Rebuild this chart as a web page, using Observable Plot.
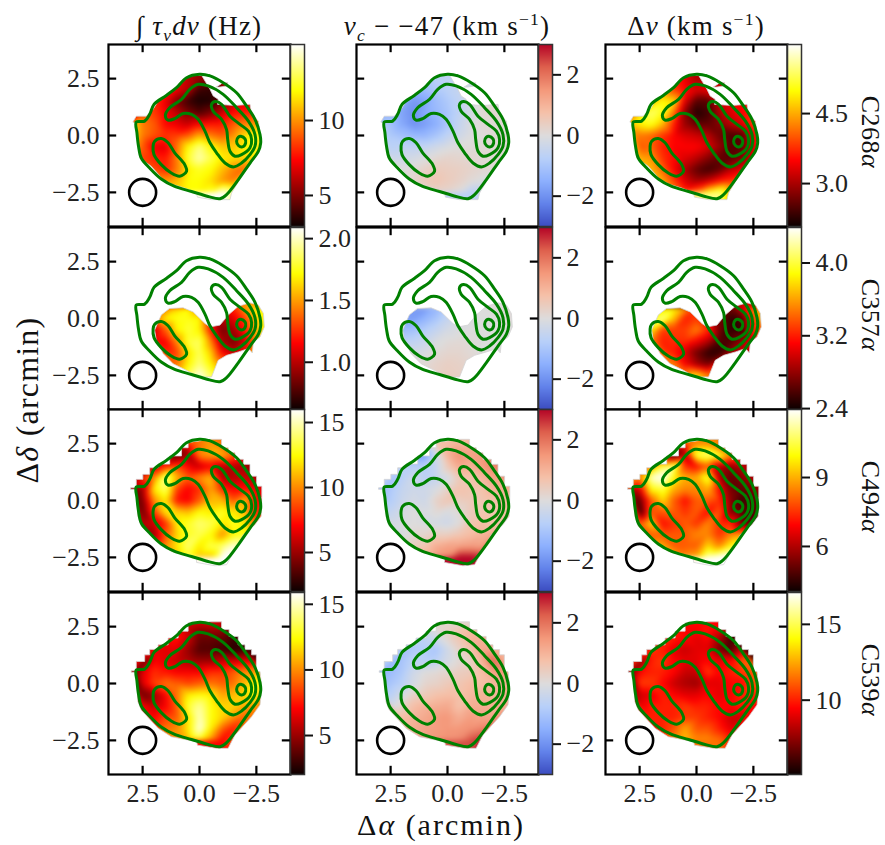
<!DOCTYPE html>
<html><head><meta charset="utf-8">
<script src="https://cdn.jsdelivr.net/npm/d3@7"></script>
<script src="https://cdn.jsdelivr.net/npm/@observablehq/plot@0.6"></script>
<style>
html,body{margin:0;padding:0;background:#fff}
#page{position:relative;width:885px;height:845px;overflow:hidden;font-family:"Liberation Serif",serif;color:#111}
#page svg{position:absolute;background:transparent;overflow:visible}
.lbl{position:absolute;white-space:nowrap;line-height:1}
sub,sup{font-size:65%;line-height:0}
</style></head><body><div id="page"></div>
<script>
const _ = null;
const xs = [3,2.5,2,1.5,1,.5,0,-.5,-1,-1.5,-2,-2.5,-3];
const ys = [2.5,2,1.5,1,.5,0,-.5,-1,-1.5,-2,-2.5];

const tauC268 = [
[_,_,_,_,7,6.2,5.4,5.4,_,_,_,_,_],
[_,_,_,7.5,7,6,3.8,3.6,3.6,_,_,_,_],
[_,_,8.4,7,5,3.8,3.2,3.3,4.8,6.6,6.9,_,_],
[_,9,8.4,7.3,6.2,5,4.2,5,6.6,7.5,7.8,8,_],
[12,9.6,9,7.4,7,6.4,7.4,7.8,7.8,9,9.7,10.2,10.2],
[_,9.6,8.8,8.2,8.4,9,10.5,9.6,9,10,11.4,12.6,_],
[_,9,7,6.8,9.4,12,13.6,12,11,11,11.8,12.6,_],
[_,8.4,8,7.8,9.6,12.6,14.1,12.9,11.7,11.4,11.2,11.4,_],
[_,_,8.8,8,9.6,11.7,12.4,12,10.8,9.6,9,_,_],
[_,_,_,10.2,10.8,12,12,11.4,10.2,9.6,_,_,_],
[_,_,_,_,_,12,12,12.6,15,13.8,_,_,_]];
const velC268 = [
[_,_,_,_,-.9,-.7,-.6,-.5,_,_,_,_,_],
[_,_,_,-1.3,-1.2,-.9,-.7,-.5,-.3,_,_,_,_],
[_,_,-1.4,-1.9,-1.7,-1.2,-.9,-.6,-.2,.1,.1,_,_],
[_,-1.2,-1.7,-2,-1.6,-1.3,-1,-.6,-.2,.1,.2,.1,_],
[-.8,-1.1,-1.6,-2,-1.8,-1.5,-1,-.5,-.1,.1,.1,.1,.1],
[_,-.9,-1.1,-1.3,-1.3,-1,-.6,-.3,-.05,.05,.1,.1,_],
[_,-.7,-.6,-.6,-.5,-.3,-.1,0,.05,.1,.1,.1,_],
[_,-.4,-.3,-.2,-.05,.15,.25,.2,.15,.1,.1,.1,_],
[_,_,0,.1,.3,.45,.4,.35,.25,.15,.1,_,_],
[_,_,_,.2,.5,.6,.45,.3,.1,-.05,_,_,_],
[_,_,_,_,_,.3,.2,0,-.7,-.5,_,_,_]];
const widC268 = [
[_,_,_,_,3.6,3.4,3,3,_,_,_,_,_],
[_,_,_,4.4,3.9,3.5,3.3,3.4,3.2,_,_,_,_],
[_,_,4.5,5,4.8,3.3,2.5,2.5,3.2,3.4,3.5,_,_],
[_,5,5.4,5.1,4.2,2.8,2.2,2.4,3,3.3,3.5,3.6,_],
[4.6,4.9,5.1,4.6,3.7,2.9,2.6,2.6,2.8,3.1,3.3,3.9,4.2],
[_,4.2,4.1,3.8,3.5,3.3,3.2,3.1,2.7,2.45,2.5,3.4,_],
[_,4,4.1,3.7,3.5,3.5,3.5,3.3,2.9,2.5,2.55,3.3,_],
[_,4.5,4.4,3.8,3.55,3.3,3.1,2.8,2.6,2.55,2.8,3.3,_],
[_,_,4.6,4.1,3.5,3,2.6,2.4,2.6,3.1,3.3,_,_],
[_,_,_,4.5,3.9,3.3,3,3.2,3.6,3.8,_,_,_],
[_,_,_,_,_,3.8,4.2,5,5.5,4.6,_,_,_]];

const tauC357 = [
[_,_,_,_,_,_,_,_,_,_,_,_,_],
[_,_,_,_,_,_,_,_,_,_,_,_,_],
[_,_,_,_,_,_,_,_,_,_,_,_,_],
[_,_,_,_,_,_,_,_,_,_,_,_,_],
[_,_,_,_,1.6,1.7,1.4,_,_,1.25,1.5,1.75,_],
[_,_,1.4,1.7,1.75,1.75,1.7,1.15,1,1.1,1.3,1.6,1.75],
[_,_,1.05,1.35,1.7,1.8,1.7,1.2,.85,.95,1.2,1.55,1.75],
[_,_,1.1,1.15,1.45,1.8,1.85,1.45,.95,.85,1.05,1.5,_],
[_,_,_,1.2,1.3,1.65,1.85,1.6,1.15,1,1.15,1.7,_],
[_,_,_,_,1.4,1.7,1.9,1.7,_,_,_,_,_],
[_,_,_,_,_,1.85,2.05,1.85,_,_,_,_,_]];
const velC357 = [
[_,_,_,_,_,_,_,_,_,_,_,_,_],
[_,_,_,_,_,_,_,_,_,_,_,_,_],
[_,_,_,_,_,_,_,_,_,_,_,_,_],
[_,_,_,_,_,_,_,_,_,_,_,_,_],
[_,_,_,_,-1.9,-1.4,-.8,_,_,0,.05,.05,_],
[_,_,-1.7,-1.8,-1.4,-1,-.5,-.2,-.05,0,0,.05,.05],
[_,_,-1.2,-1.1,-.8,-.5,-.2,-.05,0,0,0,0,0],
[_,_,-.7,-.6,-.4,-.1,.05,.1,.05,0,0,0,_],
[_,_,_,-.2,-.1,.1,.2,.2,.1,0,0,0,_],
[_,_,_,_,.1,.25,.35,.3,_,_,_,_,_],
[_,_,_,_,_,.3,.4,.35,_,_,_,_,_]];
const widC357 = [
[_,_,_,_,_,_,_,_,_,_,_,_,_],
[_,_,_,_,_,_,_,_,_,_,_,_,_],
[_,_,_,_,_,_,_,_,_,_,_,_,_],
[_,_,_,_,_,_,_,_,_,_,_,_,_],
[_,_,_,_,3.85,3.6,3.3,_,_,2.7,3,3.55,_],
[_,_,3.9,4.2,3.7,3.2,3.3,3.1,2.7,2.5,2.6,3.3,3.8],
[_,_,3.85,3.3,3.3,3.3,3.5,3.25,2.7,2.5,2.5,3.2,3.5],
[_,_,3.5,3.2,3.25,3.25,3.1,2.9,2.6,2.6,2.8,3.1,_],
[_,_,_,3.3,3.2,3,2.7,2.5,2.5,2.8,3,2.8,_],
[_,_,_,_,3.5,3.1,2.85,2.7,_,_,_,_,_],
[_,_,_,_,_,3.5,3.8,3.5,_,_,_,_,_]];

const tauC494 = [
[_,_,_,_,_,7,9.5,10.5,_,_,_,_,_],
[_,_,_,6,3.5,5,10,10.5,11,9,_,_,_],
[_,_,6,8,8.5,7,6,7,5.5,5.5,5,_,_],
[_,9,10,14.5,11,9,10,11,5.5,5.5,6,5.5,_],
[4,5,12,14,8.5,7,8,10.5,8,7,7.5,6.5,7],
[_,4.5,10,12,7.5,7,9,11,11,9,11,7,_],
[_,4,8.5,12,11.5,11,12.5,12,13,12,11,7.5,_],
[_,6,6,8,12,13,14,13.5,12,13,12,9,_],
[_,_,5,9,11.5,13,13.5,12.5,10,12.5,13,_,_],
[_,_,_,10,12,14,12,13.5,14,15.5,_,_,_],
[_,_,_,_,_,13,11,11,16,16,_,_,_]];
const velC494 = [
[_,_,_,_,_,.6,.8,1,_,_,_,_,_],
[_,_,_,-1.9,-1.8,-.3,1,1.6,1.3,1.4,_,_,_],
[_,_,-.6,-.7,-.8,-.5,.5,1.2,1,1.4,1.8,_,_],
[_,-1.2,-.7,-.3,-.7,-.5,-.2,.5,.7,.9,1.3,1.2,_],
[-1.3,-.9,-.5,-.3,-.3,-.1,.3,.7,.6,.7,1,1.1,1],
[_,-.8,-.4,-.2,-.3,.3,.6,.4,.5,.6,.7,.9,_],
[_,-.5,-.2,0,-.1,.1,-.1,.1,.5,.6,.6,.8,_],
[_,-.2,-.1,0,-.1,-.2,-.3,0,.6,.8,.7,.7,_],
[_,_,-.1,.1,.2,.4,.4,.6,.8,1,1.2,_,_],
[_,_,_,.4,.6,1.1,1.3,1.3,1.4,1.3,_,_,_],
[_,_,_,_,_,1.4,1.7,3,3,2.8,_,_,_]];
const widC494 = [
[_,_,_,_,_,7,8.5,8.5,_,_,_,_,_],
[_,_,_,6.5,4.5,6,10.5,11,10.5,8.5,_,_,_],
[_,_,8.5,10.5,11,7.5,7,8,6,5.5,6,_,_],
[_,8.5,11.5,12,10,9,9,10.5,6,5,5.5,6,_],
[6,6.5,10,10.5,9,8.5,8.5,9,7,5.3,5,5.3,6],
[_,5,8,9.5,8,7,8,8,7.5,5.5,4.6,4.8,_],
[_,4.4,8,8,8,7.5,8,7,8,5.5,5,4.6,_],
[_,8,9.5,7,7.5,8,7.5,8.5,7.5,7.5,5,5,_],
[_,_,8,8,8,8,8.5,8.5,7.5,8.5,9,_,_],
[_,_,_,9,8,8,8,9.5,8.5,10,_,_,_],
[_,_,_,_,_,8.5,9,11.5,12,12,_,_,_]];

const tauC539 = [
[_,_,_,_,6,6,5,5.5,5,_,_,_,_],
[_,_,_,7,7.5,6,4,4,4,3,_,_,_],
[_,_,6.5,6.5,6.5,5,3.5,3.5,3,2.5,3,_,_],
[_,3,7,6.5,6,5.5,5,5,6,6,6.5,6.5,_],
[3,6.5,8,7.5,7,7,7,8,8,9,10,10.5,11],
[_,6.5,8.5,9.5,9,8.5,9,9.5,9,9.5,11,13,_],
[_,4,5,7,9.5,12,12.5,12,10.5,11,11.5,13,_],
[_,7,6,7,9,13,14.5,12.5,11.5,11.5,10.5,10,_],
[_,_,7,8.5,9,12,15,12.5,11.5,10,9,_,_],
[_,_,_,9.5,10,12,15.5,12,9,7.5,_,_,_],
[_,_,_,_,_,11,12.5,10,7,9,_,_,_]];
const velC539 = [
[_,_,_,_,-.3,.2,.3,.6,.8,_,_,_,_],
[_,_,_,-.7,-.6,-.3,.2,.6,1,1,_,_,_],
[_,_,-1.1,-.9,-.8,-1,-.3,.3,.7,1.2,1.2,_,_],
[_,-1.4,-1,-.6,-.7,-.7,-.2,.1,.3,1,2.2,1.2,_],
[-1.5,-1.2,-.9,-.3,0,.1,.2,.4,.5,.8,1.3,1.5,1.2],
[_,-1,-.7,-.2,.2,.3,.5,.6,.8,.8,.9,1,_],
[_,-.7,-.2,.3,.5,.7,.8,.7,.9,1,1,1.1,_],
[_,-.3,.3,.8,1,1.1,1.2,.7,1.1,1.1,1.1,1.1,_],
[_,_,.8,1,1.2,1.4,1.5,1.1,1.4,1.3,1.2,_,_],
[_,_,_,1.1,1.3,1.4,1.5,1.5,1.6,1.8,_,_,_],
[_,_,_,_,_,1.5,1.6,1.7,2.4,2.8,_,_,_]];
const widC539 = [
[_,_,_,_,9.5,9.5,9.5,10,9.5,_,_,_,_],
[_,_,_,10,10,9.5,9,9.5,8,6,_,_,_],
[_,_,10.5,10,9,8.5,9,9,7,6,9,_,_],
[_,6.5,10,10.5,9.5,9,9,9.5,9,9.5,11,11.5,_],
[6,9.5,10,10,9.5,8.5,8.5,10.5,9.5,10,10.5,11,11.5],
[_,10.5,10.5,9.5,8.5,8,7.7,9,9,9.5,9.5,11,_],
[_,8.5,9,10,9.5,9,9,9.5,9,9.5,10,10,_],
[_,9,10,10,10,10.5,10,10,9.5,9.5,10,9.5,_],
[_,_,10,10,10,10.5,10.5,10,9.5,8.5,8.5,_,_],
[_,_,_,10,11,12.5,11,11,10,9,_,_,_],
[_,_,_,_,_,13,12,12,11.5,10,_,_,_]];

const maskC268 = [[.57,2.54],[.21,2.65],[-.09,2.65],[-.46,2.03],[-.6,1.74],[-.82,1.59],[-.79,1.37],[-1.56,1.32],[-2.22,1.37],[-2.29,.93],[-2.59,.63],[-2.69,-.18],[-2.59,-.76],[-2.22,-1.28],[-1.85,-1.79],[-1.41,-2.53],[-1.34,-2.82],[-.53,-2.82],[.09,-2.71],[.13,-2.53],[.65,-2.31],[1.16,-2.16],[1.6,-1.94],[2.12,-1.35],[2.63,-.99],[2.71,-.47],[2.78,.53],[2.93,.59],[2.78,.85],[2.34,.85],[2.04,1.15],[1.82,1.51],[1.31,1.88],[.72,2.4]];
const maskC268Sliver = [[-.75,2.13],[-1.04,2.32],[-1.24,2.32],[-1.2,2.18],[-.9,2.13]];
const maskC357 = [[1.68,.15],[1.31,.44],[.72,.47],[.28,.29],[-.24,-.22],[-.46,-.37],[-.9,-.29],[-1.26,.15],[-1.71,.54],[-2.22,.69],[-2.59,.59],[-2.81,.22],[-2.85,-.37],[-2.66,-.81],[-2.37,-1.03],[-2.32,-1.51],[-2.15,-1.32],[-1.71,-1.47],[-1.19,-1.62],[-.82,-1.84],[-.53,-2.57],[.06,-2.57],[.57,-2.28],[1.16,-1.99],[1.6,-1.54],[1.9,-.96],[1.97,-.51],[1.82,-.15]];
const maskC494 = [[.5,2.54],[-.53,2.69],[-.97,2.69],[-.97,2.32],[-1.26,2.32],[-1.26,2.1],[-1.56,2.1],[-1.56,1.81],[-1.93,1.81],[-1.93,1.59],[-2.22,1.59],[-2.22,1.07],[-2.51,1.07],[-2.51,.63],[-2.74,.63],[-2.74,.19],[-2.71,-.69],[-2.44,-1.06],[-1.93,-1.5],[-1.56,-2.16],[-1.19,-2.82],[-.68,-2.87],[.13,-2.72],[.13,-2.53],[1.24,-2.24],[1.82,-1.79],[2.56,-1.13],[2.71,-.69],[2.78,.49],[3.03,.49],[3.03,.56],[2.78,.56],[2.78,.93],[2.49,.93],[2.49,1.15],[2.19,1.15],[2.19,1.44],[1.82,1.44],[1.82,1.6],[1.31,1.6],[1.31,1.96],[.79,1.96],[.79,2.32],[.5,2.32]];
const maskC539 = [[.5,2.66],[-.53,2.71],[-.97,2.71],[-.97,2.37],[-1.3,2.37],[-1.3,2.07],[-1.7,2.07],[-1.7,1.7],[-2,1.7],[-2,1.49],[-2.29,1.49],[-2.29,1.26],[-2.5,1.26],[-2.5,.53],[-2.66,.53],[-2.74,-.21],[-2.66,-.94],[-2.29,-1.46],[-1.56,-2.26],[-1.26,-2.85],[-.75,-2.85],[.09,-2.71],[.13,-2.56],[1.24,-2.34],[1.82,-1.97],[2.56,-1.16],[2.71,-.79],[2.78,.49],[3,.49],[3,.56],[2.78,.56],[2.78,.97],[2.41,.97],[2.41,1.26],[2.19,1.26],[2.19,1.5],[1.82,1.5],[1.82,1.7],[1.38,1.7],[1.38,2],[.94,2],[.94,2.3],[.5,2.3]];

const contourOuter = [[0,2.69],[-.46,2.62],[-1.04,2.32],[-1.63,1.88],[-2.07,1.29],[-2.44,.71],[-2.66,.04],[-2.69,-.32],[-2.59,-.69],[-2.22,-1.21],[-1.71,-1.94],[-1.19,-2.6],[-.9,-2.78],[-.38,-2.68],[.35,-2.46],[1.09,-2.24],[1.68,-1.91],[2.19,-1.43],[2.56,-.99],[2.68,-.47],[2.75,.12],[2.78,.59],[2.41,.63],[2.19,.93],[2,1.37],[1.46,1.76],[1.01,2.1],[.57,2.54]];
const contourMiddle = [[1.5,.88],[1.31,1.22],[.79,1.59],[.43,2.03],[.06,2.25],[-.38,2.18],[-1.04,1.81],[-1.63,1.22],[-2.15,.63],[-2.44,.04],[-2.44,-.47],[-2.22,-.84],[-1.85,-1.21],[-1.49,-1.38],[-1.12,-1.21],[-.75,-.76],[-.46,-.32],[-.24,.19],[.06,.71],[.35,.93],[.72,.97],[1.09,.74],[1.38,.68]];
const contourInner = [[-.53,1.37],[-.71,1.49],[-.97,1.37],[-1.34,.85],[-1.78,.49],[-2.15,.19],[-2.29,-.18],[-2.22,-.54],[-1.85,-.84],[-1.56,-.91],[-1.34,-.69],[-1.24,-.18],[-1.19,.26],[-.97,.71],[-.6,1.07]];
const contourPeak = [[-1.82,-.03],[-2,-.15],[-2.03,-.32],[-1.88,-.5],[-1.71,-.44],[-1.63,-.25],[-1.71,-.07]];
const contourBlob = [[2.04,-.47],[1.97,-.25],[1.68,-.13],[1.38,-.32],[1.09,-.76],[.65,-1.28],[.57,-1.57],[.87,-1.79],[1.24,-1.65],[1.68,-1.28],[2,-.84]];

const lines = ["C268α","C357α","C494α","C539α"];
const masks = [[maskC268,maskC268Sliver],[maskC357],[maskC494],[maskC539]];
const grids = [[tauC268,velC268,widC268],[tauC357,velC357,widC357],[tauC494,velC494,widC494],[tauC539,velC539,widC539]];
const colorDomains = [
 [[2.93,15.07],[-3,3],[2.08,5.98]],
 [[.618,2.09],[-3,3],[2.39,4.39]],
 [[2,16],[-3,3],[4.04,11.96]],
 [[2.03,15.9],[-3,3],[5.1,17.1]]];
const colorTicks = [
 [[5,10],[-2,0,2],[3,4.5]],
 [[1,1.5,2],[-2,0,2],[2.4,3.2,4]],
 [[5,10,15],[-2,0,2],[6,9]],
 [[5,10,15],[-2,0,2],[10,15]]];
const tickFormats = [
 ["d","d",".1f"],
 [".1f","d",".1f"],
 ["d","d","d"],
 ["d","d","d"]];
const posTicks = [2.5,0,-2.5];
const beam = [{x:2.5,y:-2.5}];

const hotStops = [[0,"#0b0000"],[.365,"#ff0000"],[.746,"#ffff00"],[1,"#ffffff"]];
const coolStops = [[0,"#3b4cc0"],[.125,"#6282ea"],[.25,"#8db0fe"],[.375,"#b8d0f9"],[.5,"#dddcdc"],[.625,"#f5c1a9"],[.75,"#f4987a"],[.875,"#de604d"],[1,"#b40426"]];
const cmap = stops => d3.scaleLinear(stops.map(s=>s[0]), stops.map(s=>s[1])).interpolate(d3.interpolateRgb).clamp(true);
const hot = cmap(hotStops), cool = cmap(coolStops);

const colLeft = [108,356,605], rowTop = [44,227,409,592];
const S = 182, FF = '"Liberation Serif",serif';
const page = document.getElementById("page");
const place = (el,l,t)=>{el.style.left=l+"px";el.style.top=t+"px";page.appendChild(el);};
const toPoints = g => g.flatMap((r,j)=>r.flatMap((v,i)=>v==null?[]:[{x:xs[i],y:ys[j],v}]));
const ring = a => [...a, a[0]].reverse();

grids.forEach((rowGrids,r)=>rowGrids.forEach((grid,c)=>{
  const dom = colorDomains[r][c], interp = c==1?cool:hot;
  const ml = 62, mb = 36, mt = 2, mr = 2;
  const outer = [[4,4],[-4,4],[-4,-4],[4,-4],[4,4]];
  const marks = [
    Plot.raster(toPoints(grid),{x:"x",y:"y",fill:"v",interpolate:"barycentric",blur:2}),
    Plot.geo({type:"Polygon",coordinates:[outer,...masks[r].map(ring)]},{fill:"white",stroke:"#d4d4d4",strokeWidth:.8}),
    ...[contourOuter,contourMiddle,contourInner,contourPeak,contourBlob].map(k=>
      Plot.line(k,{x:d=>d[0],y:d=>d[1],stroke:"green",strokeWidth:3,curve:"catmull-rom-closed"})),
    Plot.dot(beam,{x:"x",y:"y",r:13.5,stroke:"black",strokeWidth:2.6,fill:"none"}),
    Plot.ruleX(posTicks,{y1:-4,y2:-3.64,stroke:"black",strokeWidth:2.2}),
    Plot.ruleX(posTicks,{y1:4,y2:3.64,stroke:"black",strokeWidth:2.2}),
    Plot.ruleY(posTicks,{x1:4,x2:3.64,stroke:"black",strokeWidth:2.2}),
    Plot.ruleY(posTicks,{x1:-4,x2:-3.64,stroke:"black",strokeWidth:2.2}),
    Plot.frame({stroke:"black",strokeWidth:2.2})
  ];
  if (c==0) marks.push(Plot.axisY(posTicks,{anchor:"left",tickSize:0,tickPadding:9,label:null,tickFormat:d3.format(".1f"),fontSize:26,fontFamily:FF,fill:"#222"}));
  else marks.push(Plot.axisY({ticks:[],label:null}));
  if (r==3) marks.push(Plot.axisX(posTicks,{anchor:"bottom",tickSize:0,tickPadding:9,label:null,tickFormat:d3.format(".1f"),fontSize:26,fontFamily:FF,fill:"#222"}));
  else marks.push(Plot.axisX({ticks:[],label:null}));
  const svg = Plot.plot({
    width:S+ml+mr,height:S+mt+mb,marginLeft:ml,marginRight:mr,marginTop:mt,marginBottom:mb,
    x:{domain:[4,-4],label:null},y:{domain:[-4,4],label:null},
    color:{type:"linear",domain:dom,interpolate:t=>interp(t),clamp:true},
    marks
  });
  place(svg,colLeft[c]-ml,rowTop[r]-mt);

  // colorbar
  const bml=1,bmr=50;
  const bar = Plot.plot({
    width:14+bml+bmr,height:S+4,marginLeft:bml,marginRight:bmr,marginTop:2,marginBottom:2,
    x:{domain:[0,1],axis:null},y:{domain:dom,label:null,axis:null},
    color:{type:"linear",domain:dom,interpolate:t=>interp(t)},
    marks:[
      Plot.raster({x1:0,x2:1,y1:dom[0],y2:dom[1],width:1,height:S,fill:(x,y)=>y,imageRendering:"auto"}),
      Plot.frame({stroke:"#333",strokeWidth:1.5}),
      Plot.axisY(colorTicks[r][c],{anchor:"right",tickSize:8,tickPadding:6,strokeWidth:2,stroke:"#111",label:null,
        tickFormat:d3.format(tickFormats[r][c]),fontSize:26,fontFamily:FF,fill:"#222"})
    ]
  });
  place(bar,colLeft[c]+S-1,rowTop[r]-2);
}));

function label(html,cx,cy,size,rot,ls){
  const d=document.createElement("div");d.className="lbl";d.innerHTML=html;
  d.style.fontSize=size+"px";
  if(ls) d.style.letterSpacing=ls+"px";
  d.style.transform=`translate(-50%,-50%)`+(rot?` rotate(${rot}deg)`:"");
  place(d,cx,cy);
}
const titles = ["∫ <i>τ<sub>ν</sub>dν</i> (Hz)","<i>v<sub>c</sub></i> − −47 (km s<sup>−1</sup>)","Δ<i>v</i> (km s<sup>−1</sup>)"];
const titleX = [199,447,696];
titles.forEach((t,i)=>label(t,titleX[i],26,27,0,1.2));
lines.forEach((t,r)=>label(t.replace("α","<i>α</i>"),870,rowTop[r]+88,26,90,.5));
label("Δ<i>δ</i> (arcmin)",27,400,32,-90,1.2);
label("Δ<i>α</i> (arcmin)",441,825,30,0,2);
</script></body></html>
